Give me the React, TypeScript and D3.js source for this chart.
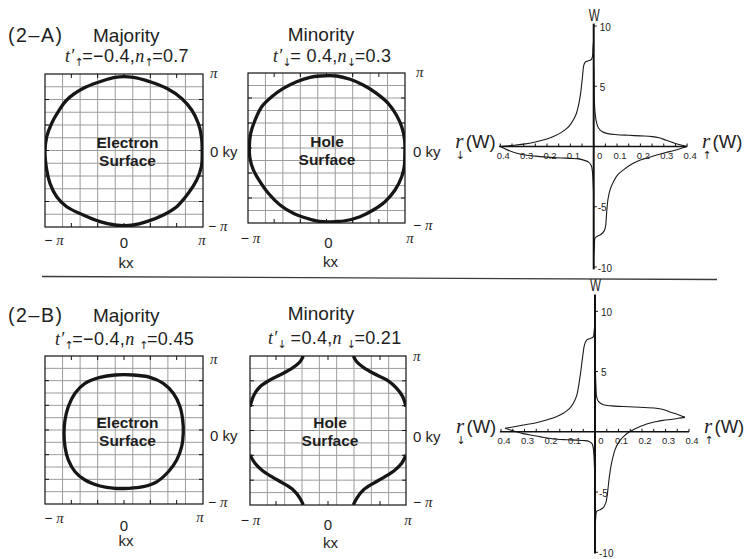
import React from 'react';
import * as d3 from 'd3';

type Pt = [number, number];

// ---------- Fermi surface contours, points are (kx/π, ky/π) ----------
const majorityA: Pt[] = [
  [-0.114, 0.957], [0.118, 0.957], [0.329, 0.899], [0.54, 0.813], [0.73, 0.68],
  [0.857, 0.529], [0.94, 0.356], [0.98, 0.18], [0.99, -0.016], [0.98, -0.21],
  [0.92, -0.386], [0.814, -0.56], [0.667, -0.735], [0.498, -0.843], [0.287, -0.93],
  [0.118, -0.974], [-0.114, -0.974], [-0.304, -0.93], [-0.515, -0.843], [-0.725, -0.735],
  [-0.852, -0.604], [-0.937, -0.429], [-0.978, -0.255], [-1.0, -0.016], [-0.978, 0.18],
  [-0.915, 0.356], [-0.832, 0.507], [-0.725, 0.66], [-0.515, 0.813], [-0.304, 0.899],
];

const minorityA: Pt[] = [
  [-0.083, 0.96], [0.13, 0.96], [0.3, 0.916], [0.467, 0.84], [0.637, 0.729],
  [0.785, 0.596], [0.89, 0.44], [0.958, 0.284], [0.995, 0.107], [0.998, -0.07],
  [0.99, -0.25], [0.958, -0.383], [0.873, -0.56], [0.745, -0.716], [0.596, -0.827],
  [0.427, -0.916], [0.236, -0.97], [0.13, -0.98], [-0.083, -0.98], [-0.252, -0.937],
  [-0.423, -0.87], [-0.592, -0.76], [-0.741, -0.604], [-0.847, -0.449], [-0.932, -0.293],
  [-0.975, -0.137], [-0.983, 0.017], [-0.966, 0.196], [-0.91, 0.373], [-0.825, 0.551],
  [-0.698, 0.684], [-0.55, 0.796], [-0.38, 0.884], [-0.21, 0.943],
];

const majorityB: Pt[] = [
  [-0.114, 0.743], [0.118, 0.743], [0.329, 0.712], [0.497, 0.631], [0.624, 0.496],
  [0.709, 0.315], [0.743, 0.135], [0.75, -0.045], [0.73, -0.226], [0.667, -0.405],
  [0.561, -0.564], [0.414, -0.7], [0.244, -0.766], [0.054, -0.788], [-0.114, -0.788],
  [-0.304, -0.757], [-0.494, -0.676], [-0.62, -0.564], [-0.705, -0.405], [-0.747, -0.226],
  [-0.759, -0.045], [-0.747, 0.135], [-0.705, 0.315], [-0.62, 0.496], [-0.494, 0.631],
  [-0.304, 0.712],
];

const minorityBUpperLeft: Pt[] = [
  [-0.317, 1.0], [-0.359, 0.923], [-0.445, 0.848], [-0.573, 0.768], [-0.744, 0.678],
  [-0.872, 0.588], [-0.949, 0.477], [-1.0, 0.32],
];
const minorityBUpperRight: Pt[] = [
  [0.325, 1.0], [0.368, 0.923], [0.453, 0.848], [0.581, 0.768], [0.753, 0.678],
  [0.881, 0.566], [0.958, 0.454], [1.0, 0.32],
];
const minorityBLowerLeft: Pt[] = [
  [-1.0, -0.329], [-0.936, -0.44], [-0.85, -0.53], [-0.722, -0.62], [-0.573, -0.709],
  [-0.445, -0.799], [-0.359, -0.91], [-0.317, -1.0],
];
const minorityBLowerRight: Pt[] = [
  [1.0, -0.329], [0.945, -0.44], [0.859, -0.53], [0.731, -0.62], [0.581, -0.709],
  [0.453, -0.799], [0.368, -0.91], [0.325, -1.0],
];

// ---------- spin-resolved densities of states, points are (r, W) ----------
const dosADownPos: Pt[] = [
  [0.4, 0], [0.34, 0.1], [0.3, 0.2], [0.25, 0.38], [0.2, 0.62], [0.17, 0.85], [0.14, 1.15],
  [0.115, 1.5], [0.097, 1.9], [0.075, 2.7], [0.061, 3.8], [0.053, 4.9], [0.047, 6.0],
  [0.043, 6.7], [0.037, 6.98], [0.025, 7.1], [0.01, 7.22], [0.005, 7.5], [0.003, 8.2], [0.0, 8.9],
];
const dosADownNeg: Pt[] = [
  [0.4, 0], [0.37, -0.28], [0.34, -0.5], [0.3, -0.68], [0.25, -0.8], [0.2, -0.88],
  [0.14, -0.95], [0.09, -0.99], [0.06, -1.05], [0.04, -1.15], [0.022, -1.3], [0.01, -1.6],
  [0.005, -2.2], [0.002, -3.2], [0.0, -4.2],
];
const dosAUpPos: Pt[] = [
  [0.0, 6.5], [0.002, 4.5], [0.004, 3.3], [0.007, 2.6], [0.012, 2.0], [0.02, 1.55],
  [0.035, 1.25], [0.06, 1.07], [0.1, 0.98], [0.15, 0.93], [0.2, 0.88], [0.25, 0.82],
  [0.28, 0.72], [0.31, 0.52], [0.34, 0.32], [0.37, 0.14], [0.4, 0],
];
const dosAUpNeg: Pt[] = [
  [0.4, 0], [0.37, -0.18], [0.34, -0.35], [0.31, -0.5], [0.27, -0.7], [0.226, -0.97],
  [0.19, -1.2], [0.16, -1.5], [0.13, -1.9], [0.105, -2.3], [0.085, -2.9], [0.07, -3.6],
  [0.061, -4.4], [0.055, -5.6], [0.051, -6.6], [0.045, -7.0], [0.03, -7.3], [0.015, -7.45],
  [0.006, -7.6], [0.003, -8.2], [0.0, -9.0],
];

const dosBDownPos: Pt[] = [
  [0.383, 0.29], [0.35, 0.4], [0.305, 0.56], [0.25, 0.75], [0.206, 0.98], [0.165, 1.25],
  [0.135, 1.54], [0.11, 1.9], [0.092, 2.37], [0.078, 3.0], [0.07, 3.77], [0.062, 4.8],
  [0.056, 5.7], [0.05, 6.6], [0.045, 7.2], [0.036, 7.6], [0.02, 7.75], [0.008, 7.85],
  [0.004, 8.3], [0.0, 9.0],
];
const dosBDownNeg: Pt[] = [
  [0.383, 0.29], [0.36, 0.15], [0.335, 0.0], [0.305, -0.15], [0.27, -0.28], [0.23, -0.42],
  [0.19, -0.55], [0.16, -0.62], [0.12, -0.66], [0.08, -0.69], [0.05, -0.72], [0.025, -0.8],
  [0.012, -1.0], [0.006, -1.6], [0.003, -2.6], [0.0, -4.0],
];
const dosBUpPos: Pt[] = [
  [0.0, 7.0], [0.002, 5.0], [0.004, 3.8], [0.007, 2.9], [0.015, 2.5], [0.035, 2.25],
  [0.07, 2.15], [0.12, 2.1], [0.19, 2.04], [0.26, 1.96], [0.29, 1.85], [0.316, 1.67],
  [0.34, 1.52], [0.358, 1.4], [0.383, 1.2],
];
const dosBUpNeg: Pt[] = [
  [0.383, 1.2], [0.355, 1.12], [0.33, 1.04], [0.29, 0.95], [0.26, 0.84], [0.22, 0.65],
  [0.19, 0.42], [0.165, 0.2], [0.147, 0.0], [0.12, -0.42], [0.1, -0.9], [0.085, -1.5],
  [0.07, -2.65], [0.062, -3.6], [0.056, -4.6], [0.051, -5.4], [0.046, -5.9], [0.035, -6.3],
  [0.018, -6.5], [0.007, -6.6], [0.003, -7.2], [0.0, -8.0],
];

// ---------- tick values and labels ----------
const rTicks = [-0.4, -0.3, -0.2, -0.1, 0, 0.1, 0.2, 0.3, 0.4];
const wTicks = [10, 5, -5, -10];

const SANS = "'Liberation Sans', Arial, Helvetica, sans-serif";
const SERIF = "'Liberation Serif', 'Times New Roman', Times, serif";
const ARROWS = "'DejaVu Sans', sans-serif";
const INK = '#1e1e1e';

const GRID_COLS = 9;
const GRID_ROWS = 12;

interface Box { x0: number; x1: number; y0: number; y1: number }

interface PanelText {
  piTop: Pt; zeroKy: Pt; piBot: Pt;
  kxMinus: Pt; kxZero: Pt; kxPi: Pt; kxLabel: Pt;
  inner: [string, string]; innerX: number; innerY: [number, number];
}

function PiText({ at, minus, anchor = 'start' }: { at: Pt; minus?: boolean; anchor?: string }) {
  return (
    <text x={at[0]} y={at[1]} fontSize={15} fill={INK} textAnchor={anchor} style={{ whiteSpace: 'pre' }}>
      {minus && <tspan fontFamily={SANS} fontSize={14}>{'− '}</tspan>}
      <tspan fontFamily={SERIF} fontStyle="italic">π</tspan>
    </text>
  );
}

function FermiPanel({ id, box, closed, open, txt }: {
  id: string; box: Box; closed: Pt[][]; open: Pt[][]; txt: PanelText;
}) {
  const sx = d3.scaleLinear().domain([-1, 1]).range([box.x0, box.x1]);
  const sy = d3.scaleLinear().domain([-1, 1]).range([box.y1, box.y0]);
  const colLines = d3.range(1, GRID_COLS).map((i) => -1 + (2 * i) / GRID_COLS);
  const rowLines = d3.range(1, GRID_ROWS).map((i) => -1 + (2 * i) / GRID_ROWS);
  const frameTicks = [-2 / 3, -1 / 3, 0, 1 / 3, 2 / 3];
  const closedLine = d3.line<Pt>().x((d) => sx(d[0])).y((d) => sy(d[1]))
    .curve(d3.curveCatmullRomClosed.alpha(0.5));
  const openLine = d3.line<Pt>().x((d) => sx(d[0])).y((d) => sy(d[1]))
    .curve(d3.curveCatmullRom.alpha(0.5));
  const tl = 4;
  return (
    <g>
      <defs>
        <clipPath id={id}>
          <rect x={box.x0} y={box.y0} width={box.x1 - box.x0} height={box.y1 - box.y0} />
        </clipPath>
      </defs>
      <rect x={box.x0} y={box.y0} width={box.x1 - box.x0} height={box.y1 - box.y0} fill="#fff" />
      {colLines.map((v, i) => (
        <line key={'c' + i} x1={sx(v)} x2={sx(v)} y1={box.y0} y2={box.y1} stroke="#9c9c9c" strokeWidth={1} />
      ))}
      {rowLines.map((v, i) => (
        <line key={'r' + i} x1={box.x0} x2={box.x1} y1={sy(v)} y2={sy(v)} stroke="#9c9c9c" strokeWidth={1} />
      ))}
      {frameTicks.map((v, i) => (
        <g key={'t' + i} stroke="#111" strokeWidth={1}>
          <line x1={sx(v)} x2={sx(v)} y1={box.y0} y2={box.y0 + tl} />
          <line x1={sx(v)} x2={sx(v)} y1={box.y1} y2={box.y1 - tl} />
          <line x1={box.x0} x2={box.x0 + tl} y1={sy(v)} y2={sy(v)} />
          <line x1={box.x1} x2={box.x1 - tl} y1={sy(v)} y2={sy(v)} />
        </g>
      ))}
      <rect x={box.x0} y={box.y0} width={box.x1 - box.x0} height={box.y1 - box.y0}
        fill="none" stroke="#111" strokeWidth={1.2} />
      <g clipPath={`url(#${id})`} fill="none" stroke="#161616" strokeWidth={3.3} strokeLinejoin="round">
        {closed.map((c, i) => <path key={'cl' + i} d={closedLine(c) ?? ''} />)}
        {open.map((c, i) => <path key={'op' + i} d={openLine(c) ?? ''} />)}
      </g>
      <text x={txt.innerX} y={txt.innerY[0]} textAnchor="middle" fontFamily={SANS} fontWeight="bold"
        fontSize={15.5} fill={INK}>{txt.inner[0]}</text>
      <text x={txt.innerX} y={txt.innerY[1]} textAnchor="middle" fontFamily={SANS} fontWeight="bold"
        fontSize={15.5} fill={INK}>{txt.inner[1]}</text>
      <PiText at={txt.piTop} />
      <text x={txt.zeroKy[0]} y={txt.zeroKy[1]} fontFamily={SANS} fontSize={15} fill={INK}
        style={{ whiteSpace: 'pre' }}>{'0 ky'}</text>
      <PiText at={txt.piBot} minus />
      <PiText at={txt.kxMinus} minus anchor="middle" />
      <text x={txt.kxZero[0]} y={txt.kxZero[1]} textAnchor="middle" fontFamily={SANS} fontSize={15} fill={INK}>0</text>
      <PiText at={txt.kxPi} anchor="middle" />
      <text x={txt.kxLabel[0]} y={txt.kxLabel[1]} textAnchor="middle" fontFamily={SANS} fontSize={15} fill={INK}>kx</text>
    </g>
  );
}

function Subtitle({ x, y, parts }: { x: number; y: number; parts: string[] }) {
  const [arrowT, tVal, nSp, arrowN, nVal] = parts;
  return (
    <text x={x} y={y} fontFamily={SANS} fontSize={18} fill={INK} letterSpacing={0.3}
      style={{ whiteSpace: 'pre' }}>
      <tspan fontFamily={SERIF} fontStyle="italic">t′</tspan>
      <tspan fontFamily={ARROWS} fontSize={11} dy={4} letterSpacing={-1.5}>{arrowT}</tspan>
      <tspan dy={-4}>{tVal}</tspan>
      <tspan fontFamily={SERIF} fontStyle="italic">{'n' + nSp}</tspan>
      <tspan fontFamily={ARROWS} fontSize={11} dy={4} letterSpacing={-1.5}>{arrowN}</tspan>
      <tspan dy={-4}>{nVal}</tspan>
    </text>
  );
}

function SpinLabel({ x, y, arrow }: { x: number; y: number; arrow: string }) {
  return (
    <text x={x} y={y} fill={INK} style={{ whiteSpace: 'pre' }}>
      <tspan fontFamily={SERIF} fontStyle="italic" fontSize={21}>r</tspan>
      <tspan x={x + 0.5} dy={11.5} fontFamily={ARROWS} fontSize={11}>{arrow}</tspan>
      <tspan x={x + 10.5} dy={-11.5} fontFamily={SANS} fontSize={18.5}>(W)</tspan>
    </text>
  );
}

function DosPlot({ cx, cy, kx, ky, wTop, wBot, down, up, wLabelY }: {
  cx: number; cy: number; kx: number; ky: number; wTop: number; wBot: number;
  down: Pt[][]; up: Pt[][]; wLabelY: number;
}) {
  const x = d3.scaleLinear().domain([-0.4, 0.4]).range([cx - 0.4 * kx, cx + 0.4 * kx]);
  const y = d3.scaleLinear().domain([-10, 10]).range([cy + 10 * ky, cy - 10 * ky]);
  const line = d3.line<Pt>().x((d) => x(d[0])).y((d) => y(d[1])).curve(d3.curveCatmullRom.alpha(0.5));
  const minor = d3.range(-8, 9).map((i) => i * 0.05);
  const fmt = (v: number) => (Math.abs(v) < 1e-9 ? '0' : Math.abs(v).toFixed(1));
  const y0 = y(0);
  return (
    <g>
      <g fill="none" stroke="#1a1a1a" strokeWidth={1.1}>
        {down.map((b, i) => (
          <path key={'d' + i} d={line(b.map((p) => [-p[0], p[1]] as Pt)) ?? ''} />
        ))}
        {up.map((b, i) => <path key={'u' + i} d={line(b) ?? ''} />)}
      </g>
      <line x1={x(-0.405)} x2={x(0.4)} y1={y0} y2={y0} stroke="#111" strokeWidth={1.5} />
      {minor.map((v, i) => (
        <line key={'m' + i} x1={x(v)} x2={x(v)} y1={y0} y2={y0 - 3} stroke="#111" strokeWidth={1} />
      ))}
      <line x1={x(0)} x2={x(0)} y1={y(wTop)} y2={y(wBot)} stroke="#111" strokeWidth={2} />
      {wTicks.map((v) => (
        <g key={'w' + v}>
          <line x1={x(0)} x2={x(0) + 3} y1={y(v)} y2={y(v)} stroke="#111" strokeWidth={1} />
          <text x={x(0) + (v > 0 ? 6 : 4)} y={y(v) + 4.5} fontFamily={SANS} fontSize={10} fill={INK}>{v}</text>
        </g>
      ))}
      {rTicks.map((v) => (
        <text key={'r' + v} x={x(v) + (v === 0 ? 6 : 3)} y={y0 + 12.5} textAnchor="middle"
          fontFamily={SANS} fontSize={9.5} fill={INK}>{fmt(v)}</text>
      ))}
      <text x={x(0) + 0.5} y={wLabelY} textAnchor="middle" fontFamily={SANS} fontSize={16}
        textLength={11} lengthAdjust="spacingAndGlyphs" fill={INK}>W</text>
      <SpinLabel x={x(-0.4) - 45} y={y0 + 1} arrow="↓" />
      <SpinLabel x={x(0.4) + 15} y={y0 + 1} arrow="↑" />
    </g>
  );
}

const boxAL: Box = { x0: 45, x1: 203, y0: 74, y1: 227 };
const boxAM: Box = { x0: 248, x1: 405, y0: 73, y1: 223 };
const boxBL: Box = { x0: 45, x1: 203, y0: 356, y1: 504 };
const boxBM: Box = { x0: 250, x1: 406, y0: 356, y1: 505 };

export default function App() {
  return (
    <svg width={755} height={559} viewBox="0 0 755 559"
      style={{ position: 'absolute', left: 0, top: 0, background: '#fff' }}>
      <rect x={0} y={0} width={755} height={559} fill="#fff" />

      {/* ----- row A ----- */}
      <text x={8} y={42} fontFamily={SANS} fontSize={19.5} letterSpacing={1.6} fill={INK}>(2–A)</text>
      <text x={93} y={42} fontFamily={SANS} fontSize={19} fill={INK}>Majority</text>
      <text x={321} y={41} textAnchor="middle" fontFamily={SANS} fontSize={19} fill={INK}>Minority</text>
      <Subtitle x={65} y={62} parts={['↑', '=−0.4,', '', '↑', '=0.7']} />
      <Subtitle x={273} y={62} parts={['↓', '= 0.4,', '', '↓', '=0.3']} />

      <FermiPanel id="clipAL" box={boxAL} closed={[majorityA]} open={[]} txt={{
        piTop: [210, 78], zeroKy: [210, 157], piBot: [208, 231],
        kxMinus: [54, 245], kxZero: [124, 248], kxPi: [202, 245], kxLabel: [126, 268],
        inner: ['Electron', 'Surface'], innerX: 127.5, innerY: [148, 166],
      }} />
      <FermiPanel id="clipAM" box={boxAM} closed={[minorityA]} open={[]} txt={{
        piTop: [416, 77], zeroKy: [413, 157], piBot: [413, 230],
        kxMinus: [250.5, 243], kxZero: [328.5, 248], kxPi: [410, 243], kxLabel: [330.5, 267],
        inner: ['Hole', 'Surface'], innerX: 327, innerY: [147, 165],
      }} />

      <DosPlot cx={593.7} cy={146.5} kx={233.5} ky={12.05} wTop={10.2} wBot={-10.2}
        down={[dosADownPos, dosADownNeg]} up={[dosAUpPos, dosAUpNeg]} wLabelY={20.5} />

      <line x1={42} y1={276.5} x2={717} y2={279.5} stroke="#3a3a3a" strokeWidth={1.3} />

      {/* ----- row B ----- */}
      <text x={8} y={322} fontFamily={SANS} fontSize={19.5} letterSpacing={1.6} fill={INK}>(2–B)</text>
      <text x={93} y={322} fontFamily={SANS} fontSize={19} fill={INK}>Majority</text>
      <text x={321} y={320} textAnchor="middle" fontFamily={SANS} fontSize={19} fill={INK}>Minority</text>
      <Subtitle x={55} y={345} parts={['↑', '=−0.4,', ' ', '↑', '=0.45']} />
      <Subtitle x={268} y={344} parts={['↓', ' =0.4,', ' ', '↓', '=0.21']} />

      <FermiPanel id="clipBL" box={boxBL} closed={[majorityB]} open={[]} txt={{
        piTop: [210, 364], zeroKy: [210, 441], piBot: [208, 507],
        kxMinus: [54, 523], kxZero: [124, 531], kxPi: [200, 522], kxLabel: [126, 546],
        inner: ['Electron', 'Surface'], innerX: 127.5, innerY: [428, 446],
      }} />
      <FermiPanel id="clipBM" box={boxBM} closed={[]}
        open={[minorityBUpperLeft, minorityBUpperRight, minorityBLowerLeft, minorityBLowerRight]} txt={{
          piTop: [413, 361], zeroKy: [413, 442], piBot: [413, 507],
          kxMinus: [250.5, 525], kxZero: [328, 530], kxPi: [408, 525], kxLabel: [330.5, 548],
          inner: ['Hole', 'Surface'], innerX: 330, innerY: [428, 446],
        }} />

      <DosPlot cx={595} cy={431.8} kx={235} ky={12.05} wTop={11.4} wBot={-10.1}
        down={[dosBDownPos, dosBDownNeg]} up={[dosBUpPos, dosBUpNeg]} wLabelY={291} />
    </svg>
  );
}
